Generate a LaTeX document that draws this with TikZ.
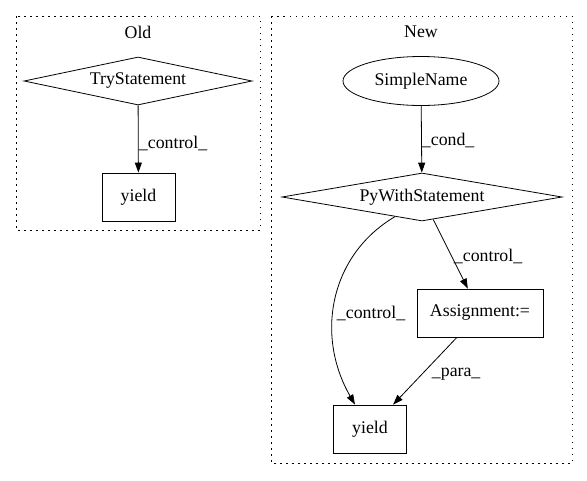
\documentclass[tikz,border=0pt]{standalone}
\usepackage{fontspec}
\setmainfont{Liberation Serif}
\usetikzlibrary{shapes.geometric,arrows.meta}

\tikzset{
	every node/.style={font=\fontsize{17.8}{20}\selectfont},
	cluster/.style={draw, line width=1pt, dash pattern=on 1.5pt off 4.5pt},
	box/.style={draw, rectangle, line width=0.8pt, minimum width=73pt, minimum height=48pt, inner sep=0pt},
	decision/.style={draw, diamond, aspect=4.75, line width=0.8pt, minimum height=48pt, inner sep=0pt},
	flow/.style={draw, line width=0.8pt, -{Triangle[length=10pt,width=7pt]}},
	lbl/.style={anchor=west, inner sep=0.75pt}
}

\begin{document}
\begin{tikzpicture}[x=1pt,y=1pt,yscale=-1,xscale=1]
		\useasboundingbox (0,0) rectangle (587,480);

		% Draw the dotted cluster boxes
		\draw[cluster] (16,16) rectangle (260,230);
		\draw[cluster] (271,16) rectangle (572,463);

		% The cluster titles
		\node (oldtitle) at (138,32) {Old};
		\node (newtitle) at (421,32) {New};

		% Nodes of the "Old" cluster
		\node[decision, minimum width=228pt] (trystmt) at (138,81) {TryStatement};
		\node[box] (oldyield) at (138.5,197) {yield};

		% Nodes of the "New" cluster
		\node[draw, ellipse, line width=0.8pt, minimum width=156pt, minimum height=49pt, inner sep=0pt] (simplename) at (421,81) {SimpleName};
		\node[decision, minimum width=280pt] (pywith) at (422,197) {PyWithStatement};
		\node[box, minimum width=126pt] (assign) at (480,313) {Assignment:=};
		\node[box] (newyield) at (370,429) {yield};

		% Draw the edges of the "Old" cluster
		\draw[flow] (trystmt) -- (oldyield);
		\node[lbl] (ctrlold) at (138,143) {\_control\_};

		% Draw the edges of the "New" cluster
		\draw[flow] (simplename) -- (pywith);
		\node[lbl] (cond) at (421,140) {\_cond\_};

		\draw[flow] (pywith) -- (assign);
		\node[lbl] (ctrlassign) at (453,256) {\_control\_};

		% The curved edge down to "yield"
		\draw[flow] (pywith.216) .. controls (330,255) and (315,335) .. ([xshift=-15pt]newyield.north);
		\node[lbl] (ctrlyield) at (336,313) {\_control\_};

		\draw[flow] (assign) -- (newyield);
		\node[lbl] (para) at (431,374) {\_para\_};
	\end{tikzpicture}
\end{document}
